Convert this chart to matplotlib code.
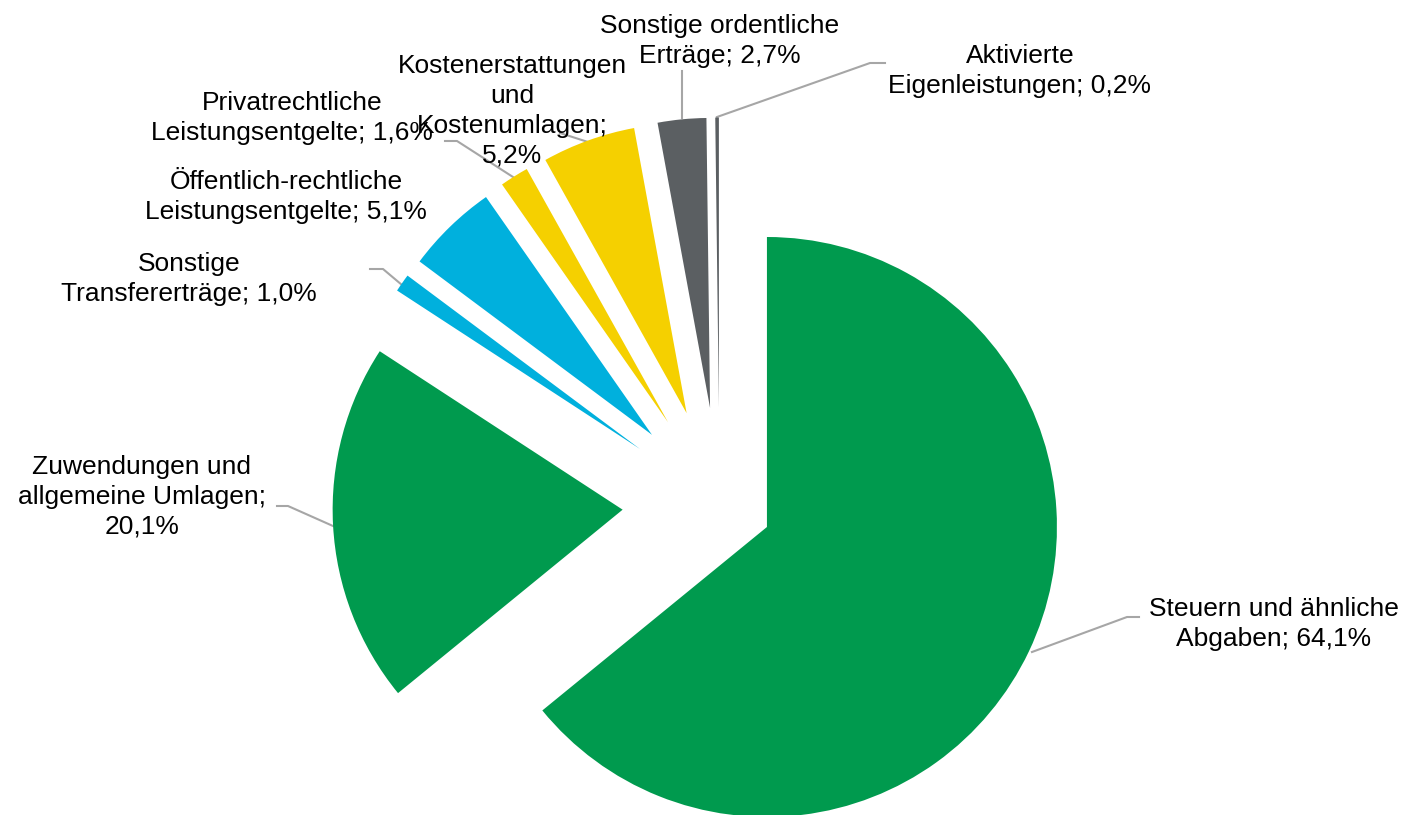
import numpy as np
import matplotlib
matplotlib.use('Agg')
import matplotlib.pyplot as plt

plt.rcParams['font.family'] = ['Liberation Sans', 'DejaVu Sans']

# Daten
labels = ['Steuern und ähnliche\nAbgaben; 64,1%',
          'Zuwendungen und\nallgemeine Umlagen;\n20,1%',
          'Sonstige\nTransfererträge; 1,0%',
          'Öffentlich-rechtliche\nLeistungsentgelte; 5,1%',
          'Privatrechtliche\nLeistungsentgelte; 1,6%',
          'Kostenerstattungen\nund\nKostenumlagen;\n5,2%',
          'Sonstige ordentliche\nErträge; 2,7%',
          'Aktivierte\nEigenleistungen; 0,2%']
values = [64.1, 20.1, 1.0, 5.1, 1.6, 5.2, 2.7, 0.2]
colors = ['#009a4e', '#009a4e', '#00b0dd', '#00b0dd', '#f5d000', '#f5d000', '#5b5f62', '#5b5f62']
# explode in pixels (matplotlib uses absolute units)
explode = [52.5, 97, 97, 97, 97, 97, 97, 97]

W, H = 1406, 815
R = 290
cx, cy = 719.5, H - 504.5

# label positions (pixel, y from top) and leader lines
text_pos = [(1274, 624), (142, 497), (189, 279), (286, 197),
            (292, 118), (512, 111), (720, 41), (1020, 71)]
leaders = [
    [(1032, 652), (1127, 617), (1139, 617)],
    [(277, 506), (288, 506), (333, 526)],
    [(370, 269), (383, 269), (402, 285)],
    None,
    [(445, 141), (457, 141), (513, 177)],
    [(560, 133), (588, 142)],
    [(682, 71), (682, 118)],
    [(717, 117), (870, 63), (885, 63)],
]

fig = plt.figure(figsize=(W / 100, H / 100), dpi=100)
ax = fig.add_axes([0, 0, 1, 1])
ax.pie(values, explode=explode, colors=colors, startangle=90, counterclock=False,
       radius=R, center=(cx, cy), wedgeprops=dict(linewidth=0))
ax.set_xlim(0, W)
ax.set_ylim(0, H)
ax.set_aspect('equal')
ax.axis('off')

for lab, (tx, ty), ld in zip(labels, text_pos, leaders):
    ax.text(tx, H - ty, lab, ha='center', va='center', fontsize=19,
            linespacing=1.3, color='black', zorder=3)
    if ld is not None:
        xs = [p[0] for p in ld]
        ys = [H - p[1] for p in ld]
        ax.plot(xs, ys, color='#a6a6a6', lw=1.5, zorder=0)

fig.savefig('out.png', dpi=100)
